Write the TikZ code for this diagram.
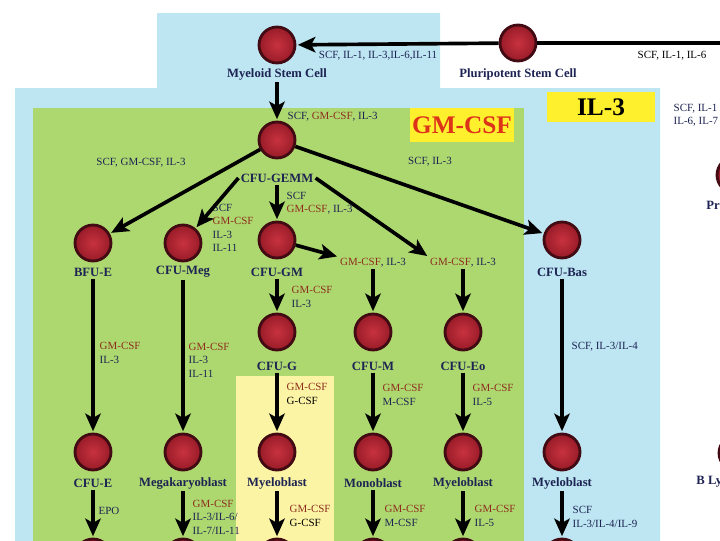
\documentclass[tikz,border=0pt]{standalone}
\usepackage{fontspec}
\setmainfont{Liberation Serif}
\usepackage{xcolor}
\usetikzlibrary{arrows.meta}

\definecolor{bluebg}{HTML}{BDE6F2}
\definecolor{greenbg}{HTML}{ADD86F}
\definecolor{paleyel}{HTML}{FBF4A4}
\definecolor{boxyel}{HTML}{FFF02E}
\definecolor{cellred}{HTML}{B3202F}
\definecolor{celllight}{HTML}{C8323F}
\definecolor{cellrim}{HTML}{420A12}
\definecolor{navy}{HTML}{1D2352}
\definecolor{gmred}{HTML}{8E2E1E}
\definecolor{bigred}{HTML}{DD3318}

\newcommand{\gmcsf}{\textcolor{gmred}{GM-CSF}}

\begin{document}
\begin{tikzpicture}[x=0.025cm, y=-0.025cm,
  cell/.style={circle, draw=cellrim, line width=2pt, inner color=celllight, outer color=cellred!85!black, minimum size=0.9cm, inner sep=0pt},
  celltext/.style={text=navy, font=\fontsize{9}{10}\selectfont\bfseries, inner sep=1.5pt},
  cytok/.style={text=navy, font=\fontsize{7.8}{9.6}\selectfont, align=left, inner sep=1pt},
  arr/.style={line width=2.6pt, -{Stealth[length=12.5pt, width=11pt, inset=3pt]}, shorten >=1pt},
  link/.style={line width=2.6pt},
  bigbox/.style={fill=boxyel, font=\fontsize{18}{20}\selectfont\bfseries, inner sep=0pt}]
  \useasboundingbox (0,0) rectangle (720,540);
  \clip (0,0) rectangle (720,540);

  % Backgrounds
  \fill[bluebg] (157,13) -- (440,13) -- (440,88) -- (660,88) -- (660,545) -- (15,545) -- (15,88) -- (157,88) -- cycle;
  \fill[greenbg] (33,108) rectangle (524,545);
  \fill[paleyel] (236,376) rectangle (334,545);
  \node[bigbox, text=bigred, minimum width=2.62cm, minimum height=0.84cm] (gmbox) at (462,125) {GM-CSF};
  \node[bigbox, text=black, minimum width=2.68cm, minimum height=0.75cm] (ilbox) at (601,107) {IL-3};

  % Draw nodes
  \node[cell] (pluri) at (518,43) {};
  \node[cell] (myel) at (277,45) {};
  \node[cell] (gemm) at (277,140) {};
  \node[cell] (bfue) at (93,243) {};
  \node[cell] (meg) at (183,243) {};
  \node[cell] (gm) at (277,240) {};
  \node[cell] (bas) at (562,240) {};
  \node[cell] (cfug) at (277,332) {};
  \node[cell] (cfum) at (373,332) {};
  \node[cell] (cfueo) at (463,332) {};
  \node[cell] (cfue) at (93,452) {};
  \node[cell] (mkb) at (183,452) {};
  \node[cell] (myb) at (277,452) {};
  \node[cell] (mono) at (373,452) {};
  \node[cell] (myeo) at (463,452) {};
  \node[cell] (mybas) at (562,452) {};
  \node[cell] (pro) at (735,175) {};
  \node[cell] (bly) at (737,453) {};
  % cells cut by the lower edge
  \node[cell] (ebot) at (93,557) {};
  \node[cell] (mkbot) at (183,557) {};
  \node[cell] (mybot) at (277,557) {};
  \node[cell] (monobot) at (373,557) {};
  \node[cell] (eobot) at (463,557) {};
  \node[cell] (basbot) at (562,557) {};

  % Cell names
  \node[celltext] (plurit) at (518,74) {Pluripotent Stem Cell};
  \node[celltext] (myelt) at (277,74) {Myeloid Stem Cell};
  \node[celltext] (gemmt) at (277,178) {CFU-GEMM};
  \node[celltext] (bfuet) at (93,272) {BFU-E};
  \node[celltext] (megt) at (183,272) {CFU-Meg};
  \node[celltext] (gmt) at (277,272) {CFU-GM};
  \node[celltext] (bast) at (562,272) {CFU-Bas};
  \node[celltext] (cfugt) at (277,366) {CFU-G};
  \node[celltext] (cfumt) at (373,366) {CFU-M};
  \node[celltext] (cfueot) at (463,366) {CFU-Eo};
  \node[celltext] (cfuet) at (93,483) {CFU-E};
  \node[celltext] (mkbt) at (183,483) {Megakaryoblast};
  \node[celltext] (mybt) at (277,483) {Myeloblast};
  \node[celltext] (monot) at (373,483) {Monoblast};
  \node[celltext] (myeot) at (463,483) {Myeloblast};
  \node[celltext] (mybast) at (562,483) {Myeloblast};
  \node[celltext, anchor=west] (prot) at (704,205) {Pr};
  \node[celltext, anchor=west] (blyt) at (694,482) {B Ly};

  % Cytokines
  \node[cytok] (c1) at (378,56) {SCF, IL-1, IL-3,IL-6,IL-11};
  \node[cytok, text=black] (c2) at (672,56) {SCF, IL-1, IL-6};
  \node[cytok, anchor=west] (c3) at (672,115) {SCF, IL-1\\IL-6, IL-7};
  \node[cytok, anchor=west] (c4) at (286,117) {SCF, \gmcsf, IL-3};
  \node[cytok] (c5) at (141,163) {SCF, GM-CSF, IL-3};
  \node[cytok] (c6) at (430,162) {SCF, IL-3};
  \node[cytok, anchor=west] (c7) at (211,228) {SCF\\\gmcsf\\IL-3\\IL-11};
  \node[cytok, anchor=west] (c8) at (285,203) {SCF\\\gmcsf, IL-3};
  \node[cytok] (mcyt) at (373,263) {\gmcsf, IL-3};
  \node[cytok] (eocyt) at (463,263) {\gmcsf, IL-3};
  \node[cytok, anchor=west] (c9) at (290,297) {\gmcsf\\IL-3};
  \node[cytok, anchor=west] (c10) at (98,353) {\gmcsf\\IL-3};
  \node[cytok, anchor=west] (c11) at (187,360) {\gmcsf\\IL-3\\IL-11};
  \node[cytok, text=black, anchor=west] (c12) at (285,394) {\gmcsf\\G-CSF};
  \node[cytok, anchor=west] (c13) at (381,395) {\gmcsf\\M-CSF};
  \node[cytok, anchor=west] (c14) at (471,395) {\gmcsf\\IL-5};
  \node[cytok, anchor=west] (c15) at (570,347) {SCF, IL-3/IL-4};
  \node[cytok, anchor=west] (c16) at (97,511) {EPO};
  \node[cytok, anchor=west] (c17) at (191,517) {\gmcsf\\IL-3/IL-6/\\IL-7/IL-11};
  \node[cytok, text=black, anchor=west] (c18) at (288,516) {\gmcsf\\G-CSF};
  \node[cytok, anchor=west] (c19) at (383,516) {\gmcsf\\M-CSF};
  \node[cytok, anchor=west] (c20) at (473,516) {\gmcsf\\IL-5};
  \node[cytok, anchor=west] (c21) at (571,517) {SCF\\IL-3/IL-4/IL-9};

  \coordinate (lymph) at (740,43);

  % Draw edges
  \draw[arr] (pluri) -- (myel);
  \draw[link] (pluri) -- (lymph);
  \draw[arr] (myelt) -- (gemm);
  \draw[arr] (gemm) -- (bfue);
  \draw[arr] (gemmt.west) -- (meg);
  \draw[arr] (gemmt) -- (gm);
  \draw[arr] (gemmt.east) -- (eocyt.north west);
  \draw[arr] (gemm) -- (bas);
  \draw[arr] (gm) -- (mcyt.north west);
  \draw[arr] (gmt) -- (cfug);
  \draw[arr] (mcyt) -- (cfum);
  \draw[arr] (eocyt) -- (cfueo);
  \draw[arr] (bfuet) -- (cfue);
  \draw[arr] (megt) -- (mkb);
  \draw[arr] (cfugt) -- (myb);
  \draw[arr] (cfumt) -- (mono);
  \draw[arr] (cfueot) -- (myeo);
  \draw[arr] (bast) -- (mybas);
  \draw[arr] (cfuet) -- (ebot);
  \draw[arr] (mkbt) -- (mkbot);
  \draw[arr] (mybt) -- (mybot);
  \draw[arr] (monot) -- (monobot);
  \draw[arr] (myeot) -- (eobot);
  \draw[arr] (mybast) -- (basbot);
\end{tikzpicture}
\end{document}
